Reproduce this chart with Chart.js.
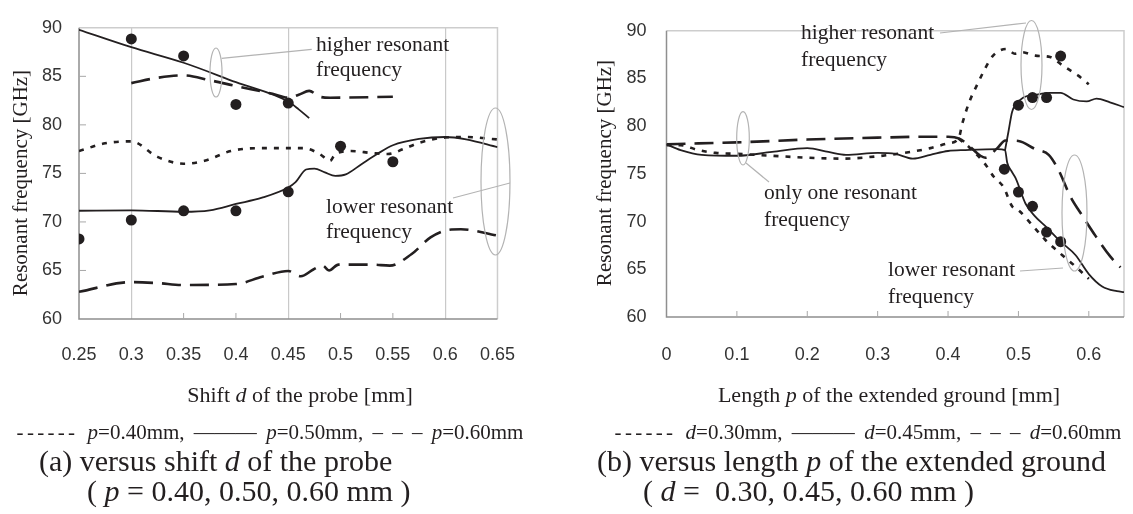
<!DOCTYPE html>
<html>
<head>
<meta charset="utf-8">
<script src="https://cdn.jsdelivr.net/npm/chart.js@4.4.1/dist/chart.umd.min.js"></script>
<style>
  body { margin: 0; background: #fff; }
  #page { position: relative; width: 1133px; height: 514px; overflow: hidden;
          font-family: "Liberation Serif", "Times New Roman", serif; color: #231f20; }
  canvas { position: absolute; top: 0; }
  #chartA { left: 0; }
  #chartB { left: 580px; }
  .t { position: absolute; white-space: nowrap; line-height: 1; transform: translate(0, -50%); }
  .c { transform: translate(-50%, -50%); }
  .ann { font-size: 21.5px; }
  .xt { font-size: 22px; }
  .yt { font-size: 21px; transform: translate(-50%, -50%) rotate(-90deg); }
  .leg { font-size: 21px; word-spacing: 4px; }
  .leg .dots { letter-spacing: 3.3px; }
  .cap { font-size: 30px; }
  svg { position: absolute; left: 0; top: 0; }
</style>
</head>
<body>
<div id="page">
  <canvas id="chartA" width="540" height="420"></canvas>
  <canvas id="chartB" width="553" height="420"></canvas>

  <svg width="1133" height="514">
    <g fill="none" stroke="#b3b3b3" stroke-width="1.2">
      <ellipse cx="216" cy="72.5" rx="6" ry="24.5"/>
      <line x1="311.7" y1="49.3" x2="221.7" y2="58.3"/>
      <ellipse cx="495.5" cy="181.5" rx="14.5" ry="73.5"/>
      <line x1="453" y1="198" x2="510" y2="183"/>
      <ellipse cx="1031.5" cy="65" rx="10.5" ry="44.5"/>
      <line x1="940" y1="33" x2="1026" y2="23"/>
      <ellipse cx="743" cy="138.3" rx="6.3" ry="26.7"/>
      <line x1="769" y1="182" x2="746" y2="163"/>
      <ellipse cx="1074.5" cy="213" rx="12.5" ry="58"/>
      <line x1="1020" y1="271" x2="1063" y2="268"/>
    </g>
  </svg>

  <!-- (a) annotations -->
  <div class="t ann" style="left:316px;top:45px">higher resonant</div>
  <div class="t ann" style="left:316px;top:70px">frequency</div>
  <div class="t ann" style="left:326px;top:207px">lower resonant</div>
  <div class="t ann" style="left:326px;top:232px">frequency</div>
  <!-- (b) annotations -->
  <div class="t ann" style="left:801px;top:33px">higher resonant</div>
  <div class="t ann" style="left:801px;top:60px">frequency</div>
  <div class="t ann" style="left:764px;top:193px">only one resonant</div>
  <div class="t ann" style="left:764px;top:220px">frequency</div>
  <div class="t ann" style="left:888px;top:270px">lower resonant</div>
  <div class="t ann" style="left:888px;top:297px">frequency</div>

  <!-- axis titles -->
  <div class="t yt" style="left:20px;top:183px">Resonant frequency [GHz]</div>
  <div class="t yt" style="left:604px;top:173px">Resonant frequency [GHz]</div>
  <div class="t c xt" style="left:300px;top:395px">Shift <i>d</i> of the probe [mm]</div>
  <div class="t c xt" style="left:889px;top:395px">Length <i>p</i> of the extended ground [mm]</div>

  <!-- legends -->
  <div class="t c leg" style="left:270px;top:432px"><span class="dots">------</span> <i>p</i>=0.40mm, ——— <i>p</i>=0.50mm, – – – <i>p</i>=0.60mm</div>
  <div class="t c leg" style="left:868px;top:432px"><span class="dots">------</span> <i>d</i>=0.30mm, ——— <i>d</i>=0.45mm, – – – <i>d</i>=0.60mm</div>

  <!-- captions -->
  <div class="t cap" style="left:39px;top:461px">(a) versus shift <i>d</i> of the probe</div>
  <div class="t cap" style="left:87px;top:491px">( <i>p</i> = 0.40, 0.50, 0.60 mm )</div>
  <div class="t cap" style="left:597px;top:461px">(b) versus length <i>p</i> of the extended ground</div>
  <div class="t cap" style="left:643px;top:491px">( <i>d</i> =&nbsp; 0.30, 0.45, 0.60 mm )</div>
</div>

<script>
// Tick values
const freqTicks = [60, 65, 70, 75, 80, 85, 90];
const shiftTicks = [0.25, 0.3, 0.35, 0.4, 0.45, 0.5, 0.55, 0.6, 0.65];
const shiftGrid = [0.3, 0.45, 0.6];
const lengthTicks = [0, 0.1, 0.2, 0.3, 0.4, 0.5, 0.6];

// (a) versus shift d  (p = 0.40 dotted, 0.50 solid, 0.60 dashed)
const aDottedX = [0.25, 0.275, 0.30, 0.325, 0.35, 0.37, 0.395, 0.42, 0.45, 0.465, 0.48, 0.49, 0.495, 0.51, 0.53, 0.545, 0.56, 0.575, 0.60, 0.62, 0.65];
const aDottedY = [77.3, 78.1, 78.3, 76.7, 76.0, 76.3, 77.3, 77.6, 77.6, 77.6, 77.0, 76.3, 77.0, 77.3, 77.1, 77.0, 77.5, 78.15, 78.7, 78.75, 78.5];

const aSolidHighX = [0.25, 0.30, 0.35, 0.40, 0.45, 0.46, 0.47];
const aSolidHighY = [89.8, 88.0, 86.4, 84.4, 82.4, 81.6, 80.7];

const aSolidLowX = [0.25, 0.30, 0.35, 0.375, 0.40, 0.425, 0.45, 0.457, 0.467, 0.475, 0.485, 0.495, 0.505, 0.52, 0.535, 0.55, 0.575, 0.60, 0.62, 0.65];
const aSolidLowY = [71.15, 71.2, 71.05, 71.2, 71.85, 72.5, 73.55, 74.1, 75.4, 75.5, 75.1, 74.75, 74.9, 75.95, 77.0, 77.9, 78.55, 78.75, 78.5, 77.7];

const aDashHighX = [0.30, 0.325, 0.35, 0.375, 0.40, 0.435, 0.45, 0.46, 0.47, 0.48, 0.49, 0.55];
const aDashHighY = [84.3, 84.85, 85.1, 84.6, 84.0, 83.2, 82.8, 83.1, 83.5, 82.9, 82.8, 82.9];

const aDashLowX = [0.25, 0.30, 0.325, 0.35, 0.40, 0.425, 0.45, 0.462, 0.474, 0.483, 0.489, 0.498, 0.53, 0.547, 0.568, 0.586, 0.604, 0.615, 0.65];
const aDashLowY = [62.8, 63.8, 63.7, 63.5, 63.6, 64.35, 64.95, 64.4, 65.1, 65.5, 65.0, 65.6, 65.6, 65.5, 66.7, 68.4, 69.2, 69.25, 68.6];

const aMeasX = [0.25, 0.30, 0.30, 0.35, 0.35, 0.40, 0.40, 0.45, 0.45, 0.50, 0.55];
const aMeasY = [68.25, 70.2, 88.85, 71.15, 87.1, 71.15, 82.1, 73.1, 82.25, 77.8, 76.2];

// (b) versus length p  (d = 0.30 dotted, 0.45 solid, 0.60 dashed)
const bDottedX = [0, 0.02, 0.045, 0.07, 0.10, 0.15, 0.20, 0.25, 0.30, 0.35, 0.375, 0.40, 0.415, 0.42, 0.43, 0.443, 0.453, 0.464, 0.483, 0.495, 0.505, 0.524, 0.545, 0.564, 0.585, 0.60];
const bDottedY = [78.0, 78.0, 77.5, 77.2, 77.1, 76.9, 76.7, 76.6, 76.85, 77.35, 77.7, 78.2, 78.7, 80.2, 82.5, 84.6, 86.1, 87.4, 88.1, 87.6, 87.75, 87.4, 87.25, 86.3, 85.3, 84.4];

const bDottedLowX = [0.415, 0.43, 0.453, 0.465, 0.479, 0.491, 0.50, 0.52, 0.538, 0.562, 0.581, 0.60];
const bDottedLowY = [78.7, 77.8, 76.0, 74.7, 73.6, 71.6, 71.2, 69.6, 68.1, 66.5, 65.3, 64.0];

const bSolidX = [0, 0.02, 0.05, 0.10, 0.15, 0.20, 0.23, 0.255, 0.30, 0.325, 0.35, 0.375, 0.40, 0.425, 0.47, 0.481, 0.484, 0.49, 0.496, 0.51, 0.523, 0.54, 0.56, 0.581, 0.60, 0.619, 0.64, 0.65];
const bSolidY = [78.1, 77.5, 77.0, 76.9, 77.3, 77.7, 77.3, 77.0, 77.2, 77.1, 76.6, 77.0, 77.4, 77.5, 77.6, 77.5, 76.2, 75.3, 74.55, 71.9, 70.6, 69.4, 67.9, 66.5, 64.5, 63.2, 62.7, 62.6];

const bSolidHighX = [0.481, 0.486, 0.491, 0.497, 0.507, 0.525, 0.545, 0.56, 0.578, 0.597, 0.611, 0.63, 0.65];
const bSolidHighY = [77.5, 79.5, 81.5, 82.3, 83.0, 83.3, 83.5, 83.5, 82.8, 82.6, 82.9, 82.5, 82.0];

const bDashX = [0, 0.045, 0.10, 0.20, 0.30, 0.375, 0.40, 0.416, 0.429, 0.446, 0.453, 0.47, 0.4815, 0.50, 0.524, 0.543, 0.557, 0.574, 0.591, 0.61, 0.631, 0.645];
const bDashY = [78.1, 78.2, 78.3, 78.6, 78.8, 78.9, 78.9, 78.7, 78.0, 76.9, 76.7, 77.7, 78.5, 78.45, 77.6, 77.0, 75.4, 72.6, 70.6, 68.45, 66.3, 65.2];

const bMeasX = [0.48, 0.50, 0.50, 0.52, 0.52, 0.54, 0.54, 0.56, 0.56];
const bMeasY = [75.5, 73.1, 82.2, 71.6, 83.0, 68.9, 83.0, 67.9, 87.35];

const INK = '#231f20';
const pts = (xs, ys) => xs.map((x, i) => ({ x: x, y: ys[i] }));

function lineSet(xs, ys, kind) {
    const set = {
        data: pts(xs, ys),
        showLine: true,
        pointRadius: 0,
        borderColor: INK,
        borderWidth: 1.8,
        cubicInterpolationMode: 'monotone',
        order: 2
    };
    if (kind == 'dotted') { set.borderDash = [5, 7]; set.borderWidth = 2.6; }
    if (kind == 'dashed') { set.borderDash = [19, 9]; set.borderWidth = 2.6; }
    return set;
}

function dotSet(xs, ys) {
    return { data: pts(xs, ys), showLine: false, pointRadius: 5.5, pointBackgroundColor: INK, pointBorderWidth: 0, order: 1 };
}

// frame around the plot plus small inward tick marks
const framePlugin = {
    id: 'frame',
    beforeDatasetsDraw(chart, args, opts) {
        const { ctx, chartArea: a, scales } = chart;
        ctx.save();
        ctx.lineWidth = 1.5;
        ctx.strokeStyle = '#cdcdcd';
        ctx.beginPath();
        ctx.moveTo(a.left, a.top); ctx.lineTo(a.right, a.top); ctx.lineTo(a.right, a.bottom);
        ctx.stroke();
        ctx.strokeStyle = '#8f8f8f';
        ctx.beginPath();
        ctx.moveTo(a.left, a.top); ctx.lineTo(a.left, a.bottom); ctx.lineTo(a.right, a.bottom);
        ctx.stroke();
        ctx.lineWidth = 1;
        ctx.strokeStyle = '#a8a8a8';
        ctx.beginPath();
        (opts.xMarks || []).forEach(v => {
            const px = scales.x.getPixelForValue(v);
            ctx.moveTo(px, a.bottom); ctx.lineTo(px, a.bottom - 6);
        });
        (opts.yMarks || []).forEach(v => {
            const py = scales.y.getPixelForValue(v);
            ctx.moveTo(a.left, py); ctx.lineTo(a.left + 7, py);
        });
        ctx.stroke();
        ctx.restore();
    }
};

function makeChart(id, o) {
    return new Chart(document.getElementById(id), {
        type: 'scatter',
        data: { datasets: o.datasets },
        options: {
            responsive: false,
            animation: false,
            events: [],
            layout: { padding: o.padding },
            plugins: {
                legend: { display: false },
                tooltip: { enabled: false },
                frame: { xMarks: o.xMarks, yMarks: o.yMarks }
            },
            scales: {
                x: {
                    type: 'linear',
                    min: o.xMin, max: o.xMax,
                    afterBuildTicks: s => { s.ticks = o.xTicks.map(v => ({ value: v })); },
                    afterFit: s => { s.height = 60; },
                    border: { display: false },
                    grid: {
                        drawTicks: false,
                        color: c => (o.xGrid.includes(c.tick.value) ? '#c9c9c9' : 'rgba(0,0,0,0)'),
                        lineWidth: 1.2
                    },
                    ticks: {
                        autoSkip: false, maxRotation: 0, padding: o.xPad, color: '#333',
                        font: { family: 'Liberation Sans', size: 18 },
                        callback: v => String(v)
                    }
                },
                y: {
                    min: 60, max: 90,
                    afterBuildTicks: s => { s.ticks = freqTicks.map(v => ({ value: v })); },
                    afterFit: s => { s.width = o.yWidth; },
                    border: { display: false },
                    grid: { display: false, drawTicks: false },
                    ticks: {
                        padding: o.yPad, color: '#333',
                        font: { family: 'Liberation Sans', size: 18 },
                        callback: v => String(v)
                    }
                }
            }
        },
        plugins: [framePlugin]
    });
}

makeChart('chartA', {
    datasets: [
        dotSet(aMeasX, aMeasY),
        lineSet(aSolidHighX, aSolidHighY, 'solid'),
        lineSet(aSolidLowX, aSolidLowY, 'solid'),
        lineSet(aDottedX, aDottedY, 'dotted'),
        lineSet(aDashHighX, aDashHighY, 'dashed'),
        lineSet(aDashLowX, aDashLowY, 'dashed')
    ],
    padding: { left: 0, top: 26, right: 19, bottom: 41 },
    xMin: 0.25, xMax: 0.65,
    xTicks: shiftTicks,
    xGrid: shiftGrid,
    xMarks: shiftTicks.filter(v => !shiftGrid.includes(v) && v != 0.25 && v != 0.65),
    yMarks: freqTicks.filter(v => v != 60 && v != 90),
    yWidth: 79, xPad: 25, yPad: 17
});

makeChart('chartB', {
    datasets: [
        dotSet(bMeasX, bMeasY),
        lineSet(bSolidX, bSolidY, 'solid'),
        lineSet(bSolidHighX, bSolidHighY, 'solid'),
        lineSet(bDottedX, bDottedY, 'dotted'),
        lineSet(bDottedLowX, bDottedLowY, 'dotted'),
        lineSet(bDashX, bDashY, 'dashed')
    ],
    padding: { left: 0, top: 14, right: 9, bottom: 43 },
    xMin: 0, xMax: 0.65,
    xTicks: lengthTicks,
    xGrid: [],
    xMarks: lengthTicks.filter(v => v != 0),
    yMarks: [],
    yWidth: 86.5, xPad: 27, yPad: 20
});
</script>
</body>
</html>
